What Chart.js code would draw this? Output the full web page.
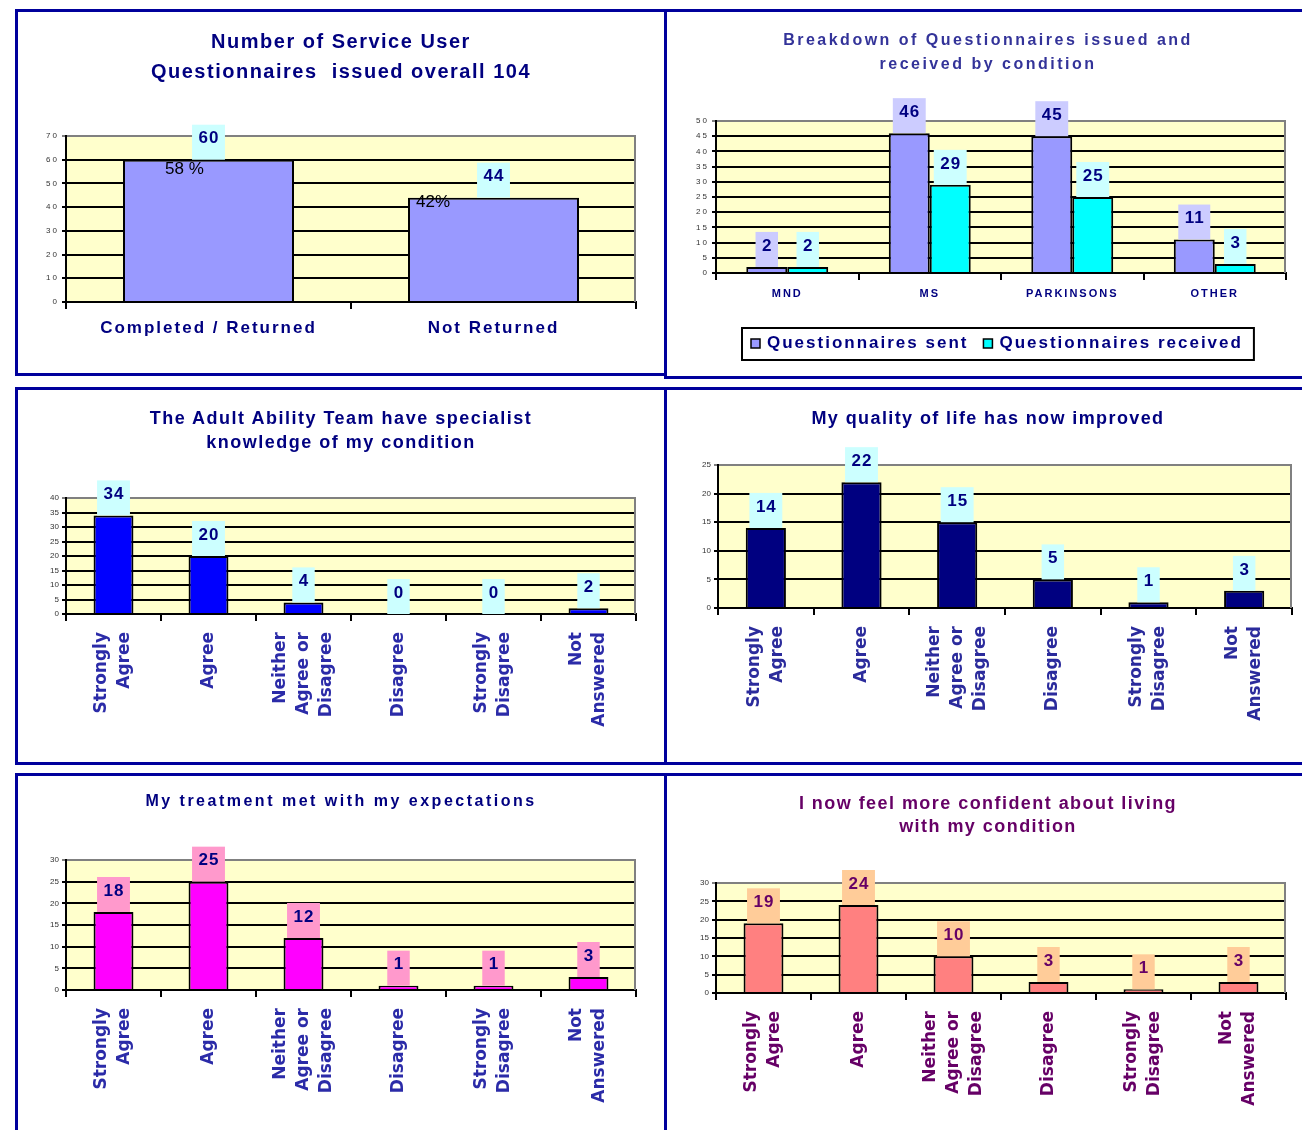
<!DOCTYPE html>
<html>
<head>
<meta charset="utf-8">
<script src="https://cdn.jsdelivr.net/npm/chart.js@4.4.1/dist/chart.umd.min.js"></script>
<style>
body { margin: 0; background: #fff; width: 1302px; height: 1130px; overflow: hidden; position: relative; font-family: "Liberation Sans", Arial, sans-serif; }
.panel { position: absolute; border: 3px solid #00009c; box-sizing: border-box; }
.title { position: absolute; text-align: center; font-weight: bold; white-space: pre; }
canvas { position: absolute; }
</style>
</head>
<body>

<div class="panel" style="left:15px;top:9px;width:652px;height:367px"></div>
<div class="panel" style="left:664px;top:9px;width:660px;height:370px"></div>
<div class="panel" style="left:15px;top:387px;width:652px;height:378px"></div>
<div class="panel" style="left:664px;top:387px;width:660px;height:378px"></div>
<div class="panel" style="left:15px;top:773px;width:652px;height:400px"></div>
<div class="panel" style="left:664px;top:773px;width:660px;height:400px"></div>

<canvas id="returnChart"></canvas>
<canvas id="conditionChart"></canvas>
<canvas id="specialistChart"></canvas>
<canvas id="qualityChart"></canvas>
<canvas id="treatmentChart"></canvas>
<canvas id="confidenceChart"></canvas>

<div class="title" style="left:18px;top:26px;width:646px;font-size:20px;line-height:30px;letter-spacing:1.5px;color:#000080">Number of Service User
Questionnaires  issued overall 104</div>
<div class="title" style="left:667px;top:28px;width:642px;font-size:16px;line-height:24px;letter-spacing:2.5px;color:#333399">Breakdown of Questionnaires issued and
received by condition</div>
<div class="title" style="left:18px;top:406px;width:646px;font-size:18px;line-height:24px;letter-spacing:1.5px;color:#000080">The Adult Ability Team have specialist
knowledge of my condition</div>
<div class="title" style="left:667px;top:406px;width:642px;font-size:18px;line-height:24px;letter-spacing:1.4px;color:#000080">My quality of life has now improved</div>
<div class="title" style="left:18px;top:789px;width:646px;font-size:16px;line-height:24px;letter-spacing:2.5px;color:#000080">My treatment met with my expectations</div>
<div class="title" style="left:667px;top:792px;width:642px;font-size:18px;line-height:23px;letter-spacing:1.45px;color:#660066">I now feel more confident about living
with my condition</div>

<script>
// Donnees
const returnLabels = ['Completed / Returned', 'Not Returned'];
const returnValues = [60, 44];
const returnPercents = ['58 %', '42%'];

const conditionLabels = ['MND', 'MS', 'PARKINSONS', 'OTHER'];
const sentValues = [2, 46, 45, 11];
const receivedValues = [2, 29, 25, 3];

const agreeLabels = [['Strongly', 'Agree'], 'Agree', ['Neither', 'Agree or', 'Disagree'], 'Disagree', ['Strongly', 'Disagree'], ['Not', 'Answered']];
const specialistValues = [34, 20, 4, 0, 0, 2];
const qualityValues = [14, 22, 15, 5, 1, 3];
const treatmentValues = [18, 25, 12, 1, 1, 3];
const confidenceValues = [19, 24, 10, 3, 1, 3];

Chart.defaults.font.family = '"Liberation Sans", Arial, sans-serif';
Chart.defaults.animation = false;

const Y_AXIS_W = 40;
const LH = 23; // hauteur de ligne des etiquettes verticales

// Fond jaune de la zone de tracé + bord droit gris
const plotBg = {
    id: 'plotBg',
    beforeDraw(chart, args, opts) {
        const { ctx, chartArea: a } = chart;
        ctx.letterSpacing = opts.spacing || '0px';
        ctx.save();
        ctx.fillStyle = '#ffffcc';
        ctx.fillRect(a.left, a.top, a.right - a.left, a.bottom - a.top);
        ctx.restore();
    },
    beforeDatasetsDraw(chart) {
        const { ctx, chartArea: a } = chart;
        ctx.save();
        ctx.strokeStyle = '#808080';
        ctx.lineWidth = 2;
        ctx.beginPath();
        ctx.moveTo(a.right - 1, a.top);
        ctx.lineTo(a.right - 1, a.bottom);
        ctx.stroke();
        ctx.restore();
    }
};

// Valeurs dans des petites boites au-dessus des barres
const valueBoxes = {
    id: 'valueBoxes',
    afterDatasetsDraw(chart, args, opts) {
        const ctx = chart.ctx;
        ctx.save();
        ctx.font = 'bold 17px "Liberation Sans"';
        ctx.letterSpacing = '1px';
        ctx.textAlign = 'center';
        ctx.textBaseline = 'middle';
        chart.data.datasets.forEach((ds, d) => {
            chart.getDatasetMeta(d).data.forEach((bar, i) => {
                const txt = String(ds.data[i]);
                const w = ctx.measureText(txt).width + 12;
                const h = 35;
                ctx.fillStyle = opts.boxColors[d];
                ctx.fillRect(bar.x - w / 2, bar.y - h, w, h);
                ctx.fillStyle = opts.color;
                ctx.fillText(txt, bar.x + 0.5, bar.y - h + 14);
            });
        });
        ctx.restore();
    }
};

// Pourcentages dans les barres (premier graphique)
const pctLabels = {
    id: 'pctLabels',
    afterDatasetsDraw(chart, args, opts) {
        const ctx = chart.ctx;
        ctx.save();
        ctx.font = '17px "Liberation Sans"';
        ctx.letterSpacing = '0px';
        ctx.fillStyle = '#000';
        ctx.textAlign = 'left';
        ctx.textBaseline = 'middle';
        chart.getDatasetMeta(0).data.forEach((bar, i) => {
            const left = bar.x - bar.width / 2;
            ctx.fillText(opts.texts[i], left + opts.offsets[i][0], bar.y + opts.offsets[i][1]);
        });
        ctx.restore();
    }
};

// Legende encadree (deuxieme graphique)
const boxLegend = {
    id: 'boxLegend',
    afterDraw(chart) {
        const { ctx, chartArea: a } = chart;
        ctx.save();
        ctx.font = 'bold 17px "Liberation Sans"';
        ctx.letterSpacing = '2px';
        const items = chart.data.datasets.map(ds => ({ text: ds.label, color: ds.backgroundColor, w: ctx.measureText(ds.label).width }));
        const mk = 9, gapMk = 7, gapItem = 15, padL = 9, padR = 11, h = 32;
        const total = padL + padR + items.reduce((s, it) => s + mk + gapMk + it.w, 0) + gapItem * (items.length - 1);
        const top = a.bottom + 55;
        let x = Math.round((a.left + a.right) / 2 - 3 - total / 2);
        ctx.fillStyle = '#fff';
        ctx.fillRect(x, top, total, h);
        ctx.strokeStyle = '#000';
        ctx.lineWidth = 2;
        ctx.strokeRect(x, top, total, h);
        x += padL;
        items.forEach(it => {
            ctx.fillStyle = it.color;
            ctx.fillRect(x, top + 11, mk, mk);
            ctx.lineWidth = 1.5;
            ctx.strokeRect(x, top + 11, mk, mk);
            x += mk + gapMk;
            ctx.fillStyle = '#000080';
            ctx.textAlign = 'left';
            ctx.textBaseline = 'middle';
            ctx.fillText(it.text, x, top + 15);
            x += it.w + gapItem;
        });
        ctx.restore();
    }
};

function yScale(max, step) {
    return {
        min: 0,
        max: max,
        afterFit: s => { s.width = Y_AXIS_W; },
        border: { display: true, color: '#000', width: 2 },
        grid: {
            color: c => (c.tick && c.tick.value === max) ? '#808080' : '#000',
            lineWidth: 2,
            tickLength: 4
        },
        ticks: { stepSize: step, color: '#333', padding: 3, font: { size: 8 } }
    };
}

function xScale(height, ticks) {
    return {
        afterFit: s => { s.height = height; },
        border: { color: '#000', width: 2 },
        grid: { offset: true, drawOnChartArea: false, color: '#000', lineWidth: 2, tickLength: 7 },
        ticks: ticks
    };
}

function lineCount(c) {
    const lbl = c.tick ? c.tick.label : '';
    return Array.isArray(lbl) ? lbl.length : 1;
}

// Etiquettes verticales centrees sur chaque categorie
function agreeTicks(color) {
    return {
        autoSkip: false,
        minRotation: 90,
        maxRotation: 90,
        labelOffset: -LH,
        padding: 11,
        color: color,
        font: c => ({ family: '"DejaVu Sans"', size: 17, weight: 'bold', lineHeight: (lineCount(c) === 1 ? 2 * LH : LH) + 'px' }),
        showLabelBackdrop: c => lineCount(c) < 3,
        backdropColor: 'rgba(0,0,0,0)',
        backdropPadding: 0
    };
}

function makeChart(id, box, area, xH, spacing, data, scales, barOpts, plugins, pluginOpts) {
    const canvas = document.getElementById(id);
    canvas.style.left = box.x + 'px';
    canvas.style.top = box.y + 'px';
    canvas.width = box.w;
    canvas.height = box.h;
    canvas.style.width = box.w + 'px';
    canvas.style.height = box.h + 'px';
    const padding = {
        left: area.l - box.x - Y_AXIS_W,
        top: area.t - box.y,
        right: box.x + box.w - area.r,
        bottom: box.y + box.h - area.b - xH
    };
    data.datasets.forEach(ds => Object.assign(ds, {
        borderColor: '#000',
        borderWidth: c => (c.raw === 0 ? 0 : 2)
    }, barOpts));
    return new Chart(canvas.getContext('2d'), {
        type: 'bar',
        data: data,
        options: {
            responsive: false,
            layout: { padding: padding },
            scales: scales,
            plugins: Object.assign({
                legend: { display: false },
                tooltip: { enabled: false },
                plotBg: { spacing: spacing }
            }, pluginOpts)
        },
        plugins: [plotBg, valueBoxes].concat(plugins)
    });
}

// 1. Questionnaires retournes
makeChart('returnChart',
    { x: 18, y: 12, w: 646, h: 362 }, { l: 66, t: 136, r: 636, b: 302 }, 45, '2px',
    { labels: returnLabels, datasets: [{ data: returnValues, backgroundColor: '#9999ff' }] },
    { x: xScale(45, { color: '#000080', padding: 9, maxRotation: 0, font: { size: 17, weight: 'bold' } }), y: yScale(70, 10) },
    { barPercentage: 0.6, categoryPercentage: 1 },
    [pctLabels],
    { valueBoxes: { boxColors: ['#ccffff'], color: '#000080' },
      pctLabels: { texts: returnPercents, offsets: [[42, 10], [8, 5]] } });

// 2. Par condition
makeChart('conditionChart',
    { x: 667, y: 12, w: 635, h: 364 }, { l: 716, t: 121, r: 1286, b: 273 }, 30, '2px',
    { labels: conditionLabels, datasets: [
        { label: 'Questionnaires sent', data: sentValues, backgroundColor: '#9999ff' },
        { label: 'Questionnaires received', data: receivedValues, backgroundColor: '#00ffff' }
    ] },
    { x: xScale(30, { color: '#000080', padding: 7, maxRotation: 0, font: { size: 11, weight: 'bold' } }), y: yScale(50, 5) },
    { barPercentage: 1, categoryPercentage: 0.575 },
    [boxLegend],
    { valueBoxes: { boxColors: ['#ccccff', '#ccffff'], color: '#000080' } });

// 3. Connaissance specialisee
makeChart('specialistChart',
    { x: 18, y: 390, w: 646, h: 372 }, { l: 66, t: 498, r: 636, b: 614 }, 120, '0px',
    { labels: agreeLabels, datasets: [{ data: specialistValues, backgroundColor: '#0000ff' }] },
    { x: xScale(120, agreeTicks('#2b2ba8')), y: yScale(40, 5) },
    { barPercentage: 0.42, categoryPercentage: 1 },
    [],
    { valueBoxes: { boxColors: ['#ccffff'], color: '#000080' } });

// 4. Qualite de vie
makeChart('qualityChart',
    { x: 667, y: 390, w: 635, h: 372 }, { l: 718, t: 465, r: 1292, b: 608 }, 120, '0px',
    { labels: agreeLabels, datasets: [{ data: qualityValues, backgroundColor: '#000080' }] },
    { x: xScale(120, agreeTicks('#2b2b9c')), y: yScale(25, 5) },
    { barPercentage: 0.42, categoryPercentage: 1 },
    [],
    { valueBoxes: { boxColors: ['#ccffff'], color: '#000080' } });

// 5. Traitement
makeChart('treatmentChart',
    { x: 18, y: 776, w: 646, h: 354 }, { l: 66, t: 860, r: 636, b: 990 }, 120, '0px',
    { labels: agreeLabels, datasets: [{ data: treatmentValues, backgroundColor: '#ff00ff' }] },
    { x: xScale(120, agreeTicks('#2b2ba8')), y: yScale(30, 5) },
    { barPercentage: 0.42, categoryPercentage: 1 },
    [],
    { valueBoxes: { boxColors: ['#ff99cc'], color: '#000080' } });

// 6. Confiance
makeChart('confidenceChart',
    { x: 667, y: 776, w: 635, h: 354 }, { l: 716, t: 883, r: 1286, b: 993 }, 120, '0px',
    { labels: agreeLabels, datasets: [{ data: confidenceValues, backgroundColor: '#ff8080' }] },
    { x: xScale(120, agreeTicks('#660066')), y: yScale(30, 5) },
    { barPercentage: 0.42, categoryPercentage: 1 },
    [],
    { valueBoxes: { boxColors: ['#ffcc99'], color: '#660066' } });
</script>
</body>
</html>
